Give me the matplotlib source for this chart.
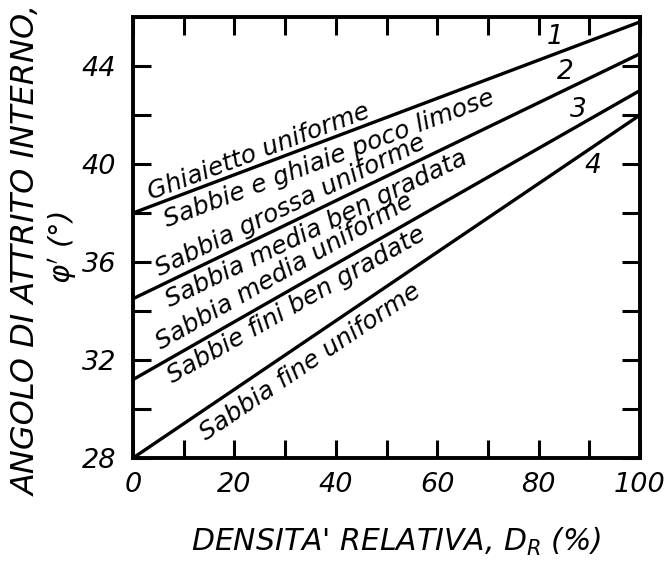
import numpy as np
import matplotlib
matplotlib.use("Agg")
import matplotlib.pyplot as plt
from matplotlib.ticker import MultipleLocator

# ---- data ----
curve_ids = ["1", "2", "3", "4"]
dr_ends = [0, 100]                      # relative density (%)
phi_curve1 = [38.0, 45.8]
phi_curve2 = [34.5, 44.5]
phi_curve3 = [31.2, 43.0]
phi_curve4 = [28.0, 42.0]
curves = [phi_curve1, phi_curve2, phi_curve3, phi_curve4]

id_x = [83.2, 85.2, 87.8, 90.7]
id_y = [45.2, 43.75, 42.2, 39.9]

soil_labels = ["Ghiaietto uniforme",
               "Sabbie e ghiaie poco limose",
               "Sabbia grossa uniforme",
               "Sabbia media ben gradata",
               "Sabbia media uniforme",
               "Sabbie fini ben gradate",
               "Sabbia fine uniforme"]
soil_x = [24.8, 38.7, 31.1, 36.1, 29.8, 32.3, 34.9]
soil_y = [40.5, 40.2, 38.3, 37.35, 35.6, 34.25, 31.9]
soil_ref_curve = [0, 0, 1, 1, 2, 2, 3]

x_ticks = [0, 20, 40, 60, 80, 100]
y_ticks = [28, 32, 36, 40, 44]

# ---- figure ----
plt.rcParams['font.family'] = ['DejaVu Sans']
plt.rcParams['mathtext.fontset'] = 'dejavusans'
W, H = 671, 562
fig = plt.figure(figsize=(W / 100, H / 100), dpi=100)
ax = fig.add_axes([133 / W, 1 - 458 / H, (640 - 133) / W, (458 - 17) / H])
ax.set_xlim(0, 100)
ax.set_ylim(28, 46)

for c in curves:
    ax.plot(dr_ends, c, color="black", lw=2.4, solid_capstyle="butt", clip_on=False)

for s in ax.spines.values():
    s.set_linewidth(2.8)

ax.xaxis.set_major_locator(MultipleLocator(20))
ax.xaxis.set_minor_locator(MultipleLocator(10))
ax.yaxis.set_major_locator(MultipleLocator(4))
ax.yaxis.set_minor_locator(MultipleLocator(2))
ax.set_xticks(x_ticks)
ax.set_yticks(y_ticks)
ax.tick_params(which="both", direction="in", length=13, width=2.2,
               top=True, right=True)
ax.tick_params(axis="x", which="major", pad=10)
ax.tick_params(axis="y", which="major", pad=12)
for lab in ax.get_xticklabels() + ax.get_yticklabels():
    lab.set_fontsize(19.5)
    lab.set_fontstyle("italic")

def angle_of(c):
    p = ax.transData.transform([(dr_ends[0], c[0]), (dr_ends[1], c[1])])
    return np.degrees(np.arctan2(p[1, 1] - p[0, 1], p[1, 0] - p[0, 0]))

for t, x, y, r in zip(soil_labels, soil_x, soil_y, soil_ref_curve):
    ax.text(x, y, t, rotation=angle_of(curves[r]), rotation_mode="anchor",
            ha="center", va="center", fontsize=18, fontstyle="italic")

for t, x, y in zip(curve_ids, id_x, id_y):
    ax.text(x, y, t, ha="center", va="center", fontsize=19, fontstyle="italic")

fig.text(27 / W, 1 - 250 / H, "ANGOLO DI ATTRITO INTERNO,", rotation=90,
         ha="center", va="center", fontsize=23, fontstyle="italic")
fig.text(63 / W, 1 - 248 / H, r"$\varphi'$ (°)", rotation=90,
         ha="center", va="center", fontsize=21, fontstyle="italic")
fig.text(396 / W, 1 - 542 / H, r"DENSITA' RELATIVA, $D_R$ (%)",
         ha="center", va="center", fontsize=21.5, fontstyle="italic")

fig.savefig("out.png", dpi=100)
